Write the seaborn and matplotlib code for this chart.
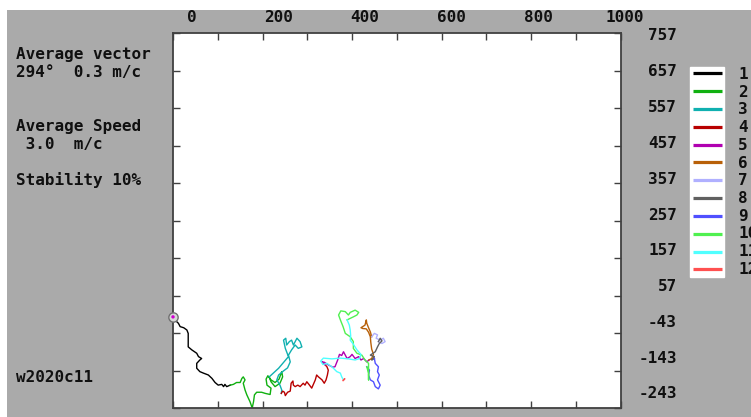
import numpy as np
import pandas as pd
import matplotlib
matplotlib.use("Agg")
import matplotlib.pyplot as plt
from matplotlib.patches import Rectangle
from matplotlib.lines import Line2D
from matplotlib.font_manager import FontProperties
import seaborn as sns

# ---------------- data (progressive vector diagram, cumulative east/north) -------------
months = ["1", "2", "3", "4", "5", "6", "7", "8", "9", "10", "11", "12"]
month_colors = ["#000000", "#10b010", "#10b0b0", "#b80000", "#b000b0", "#b86008",
                "#b0b0ff", "#606060", "#5050ff", "#50f050", "#50ffff", "#ff5050"]

east_01 = [0, 4, 12, 16, 24, 31, 34, 34, 42, 53, 57, 64, 60, 53, 53, 60, 68, 79, 87, 94, 101, 109, 113, 116, 120, 128]
north_01 = [0, -8, -17, -26, -29, -35, -44, -80, -88, -97, -106, -111, -115, -124, -137, -146, -150, -155, -164, -175, -182, -180, -186, -180, -186, -182]
east_02 = [128, 135, 142, 150, 154, 157, 161, 157, 161, 165, 172, 177, 180, 182, 187, 198, 206, 217, 219, 210, 208, 212, 219, 228, 237, 243, 245, 239, 228, 219, 215]
north_02 = [-182, -180, -175, -175, -164, -160, -168, -177, -195, -208, -226, -243, -226, -208, -201, -201, -204, -207, -190, -182, -166, -157, -168, -175, -166, -146, -160, -177, -186, -173, -160]
east_03 = [215, 236, 258, 251, 247, 252, 254, 260, 265, 269, 277, 284, 288, 280, 273, 265, 258, 262, 256, 247, 236, 232, 239, 243, 242]
north_03 = [-160, -137, -106, -84, -62, -57, -75, -66, -62, -75, -57, -66, -80, -84, -75, -88, -102, -120, -136, -144, -155, -168, -182, -195, -204]
east_04 = [242, 245, 249, 251, 256, 262, 264, 268, 269, 273, 279, 284, 291, 295, 299, 305, 310, 318, 321, 325, 333, 338, 342, 345, 347, 344, 340]
north_04 = [-204, -198, -201, -210, -201, -198, -177, -171, -182, -186, -182, -186, -177, -182, -173, -182, -190, -168, -155, -160, -168, -177, -168, -155, -142, -133, -128]
east_05 = [340, 333, 338, 347, 357, 362, 368, 372, 377, 381, 385, 389, 396, 400, 407, 415, 420, 426, 433, 438]
north_05 = [-128, -120, -121, -128, -134, -133, -115, -100, -103, -93, -102, -111, -106, -100, -111, -106, -115, -111, -120, -115]
east_06 = [438, 444, 448, 444, 442, 441, 437, 432, 424, 420, 429, 432, 433, 437, 441, 444]
north_06 = [-115, -111, -100, -86, -68, -53, -41, -32, -31, -29, -22, -8, -17, -29, -40, -53]
east_07 = [444, 450, 457, 454, 463, 470, 474, 467, 459]
north_07 = [-53, -44, -48, -57, -62, -57, -66, -71, -66]
east_08 = [459, 463, 467, 461, 457, 452, 447, 441, 450, 444, 450]
north_08 = [-66, -57, -64, -71, -80, -93, -97, -102, -106, -115, -111]
east_09 = [450, 452, 459, 457, 461, 457, 463, 459, 452, 448, 441, 437, 439, 433]
north_09 = [-111, -124, -133, -146, -155, -168, -182, -192, -186, -173, -168, -155, -142, -133]
east_10 = [433, 437, 437, 437, 429, 422, 411, 403, 403, 396, 385, 380, 374, 370, 375, 385, 392, 396, 407, 415, 411, 403, 396, 389]
north_10 = [-133, -150, -168, -124, -115, -102, -97, -84, -66, -53, -44, -26, -8, 5, 16, 14, 5, 12, 18, 12, 5, 0, -4, -8]
east_11 = [389, 394, 396, 397, 396, 403, 411, 420, 417, 407, 392, 374, 355, 336, 330, 335, 344, 355, 366, 374, 377, 381]
north_11 = [-8, -22, -35, -50, -62, -73, -88, -100, -111, -115, -112, -110, -112, -110, -118, -127, -124, -133, -146, -150, -160, -168]
east_12 = [381, 384, 380]
north_12 = [-168, -165, -170]

x_tick_labels = ["0", "200", "400", "600", "800", "1000"]
y_tick_labels = ["757", "657", "557", "457", "357", "257", "157", "57", "-43", "-143", "-243"]
station = "w2020c11"
info_lines = ["Average vector", "294\u00b0  0.3 m/c", "Average Speed", " 3.0  m/c", "Stability 10%"]

# ---------------- build table -------------
easts = [east_01, east_02, east_03, east_04, east_05, east_06, east_07, east_08, east_09, east_10, east_11, east_12]
norths = [north_01, north_02, north_03, north_04, north_05, north_06, north_07, north_08, north_09, north_10, north_11, north_12]
rows = []
for m, ex, ny in zip(months, easts, norths):
    for i, (e, n) in enumerate(zip(ex, ny)):
        rows.append({"month": m, "step": i, "east": e, "north": n})
df = pd.DataFrame(rows)

# ---------------- figure -------------
W, H = 751, 417
fig = plt.figure(figsize=(W / 100, H / 100), dpi=100, facecolor="white")
fig.patches.append(Rectangle((7 / W, 0), 1, (H - 10) / H, transform=fig.transFigure,
                             facecolor="#aaaaaa", edgecolor="none", zorder=-10))

ax = fig.add_axes([173 / W, 9 / H, 447.5 / W, 375 / H])
ax.set_facecolor("white")

sns.lineplot(data=df, x="east", y="north", hue="month",
             sort=False, estimator=None, palette=dict(zip(months, month_colors)),
             hue_order=months, legend=False, linewidth=1.0, ax=ax)

# start marker
ax.scatter([east_01[0]], [north_01[0]], s=45, facecolor="#d8d8d8", edgecolor="#707070",
           linewidth=1.0, zorder=5, clip_on=False)
ax.scatter([east_01[0]], [north_01[0]], s=6, facecolor="#d000d0", edgecolor="none",
           zorder=6, clip_on=False)

ax.set_xlim(0, 1000)
ax.set_ylim(-243, 757)
ax.set_xticks(np.arange(0, 1001, 100))
ax.set_yticks(np.arange(-243, 758, 100))
ax.tick_params(direction="in", length=5, width=1, color="#404040", top=True, right=True,
               labelbottom=False, labelleft=False, labeltop=False, labelright=False)
ax.set_xlabel("")
ax.set_ylabel("")
for s in ax.spines.values():
    s.set_color("#404040")
    s.set_linewidth(1.3)

FS = 11.5
fp = dict(family="DejaVu Sans Mono", weight="bold", size=FS, color="#101010")

# top labels (placed as in the reference, not aligned with ticks)
for i, lab in enumerate(x_tick_labels):
    px = 192 + i * 86.5
    fig.text(px / W, 1 - 17.5 / H, lab, ha="center", va="center", **fp)

# right labels
for i, lab in enumerate(y_tick_labels):
    py = 36 + i * 35.8
    fig.text(677 / W, 1 - py / H, lab, ha="right", va="center", **fp)

# info text on the left
info_y = [55, 73, 127, 145, 180]
for t, py in zip(info_lines, info_y):
    fig.text(16 / W, 1 - py / H, t, ha="left", va="center", **fp)
fig.text(16 / W, 1 - 377 / H, station, ha="left", va="center", **fp)

# legend: coloured keys in a white box, numbers outside of it
handles = [Line2D([], [], color=c, lw=2.3, solid_capstyle="butt") for c in month_colors]
leg1 = fig.legend(handles, [""] * len(months), loc="upper left",
                  bbox_to_anchor=(690 / W, 1 - 66.7 / H), bbox_transform=fig.transFigure,
                  frameon=True, fancybox=False, facecolor="white", edgecolor="white",
                  framealpha=1, prop=FontProperties(family="DejaVu Sans Mono", size=6),
                  handlelength=3.5, handletextpad=0, borderpad=0.3, labelspacing=1.06,
                  borderaxespad=0)
blank = [Line2D([], [], color="none") for _ in months]
leg2 = fig.legend(blank, months, loc="upper left",
                  bbox_to_anchor=(738 / W, 1 - 67 / H), bbox_transform=fig.transFigure,
                  frameon=False, prop=FontProperties(family="DejaVu Sans Mono", weight="bold", size=FS),
                  handlelength=0, handletextpad=0, borderpad=0, labelspacing=0.17,
                  borderaxespad=0)
for t in leg2.get_texts():
    t.set_color("#101010")

fig.savefig("out.png", dpi=100, facecolor=fig.get_facecolor())
